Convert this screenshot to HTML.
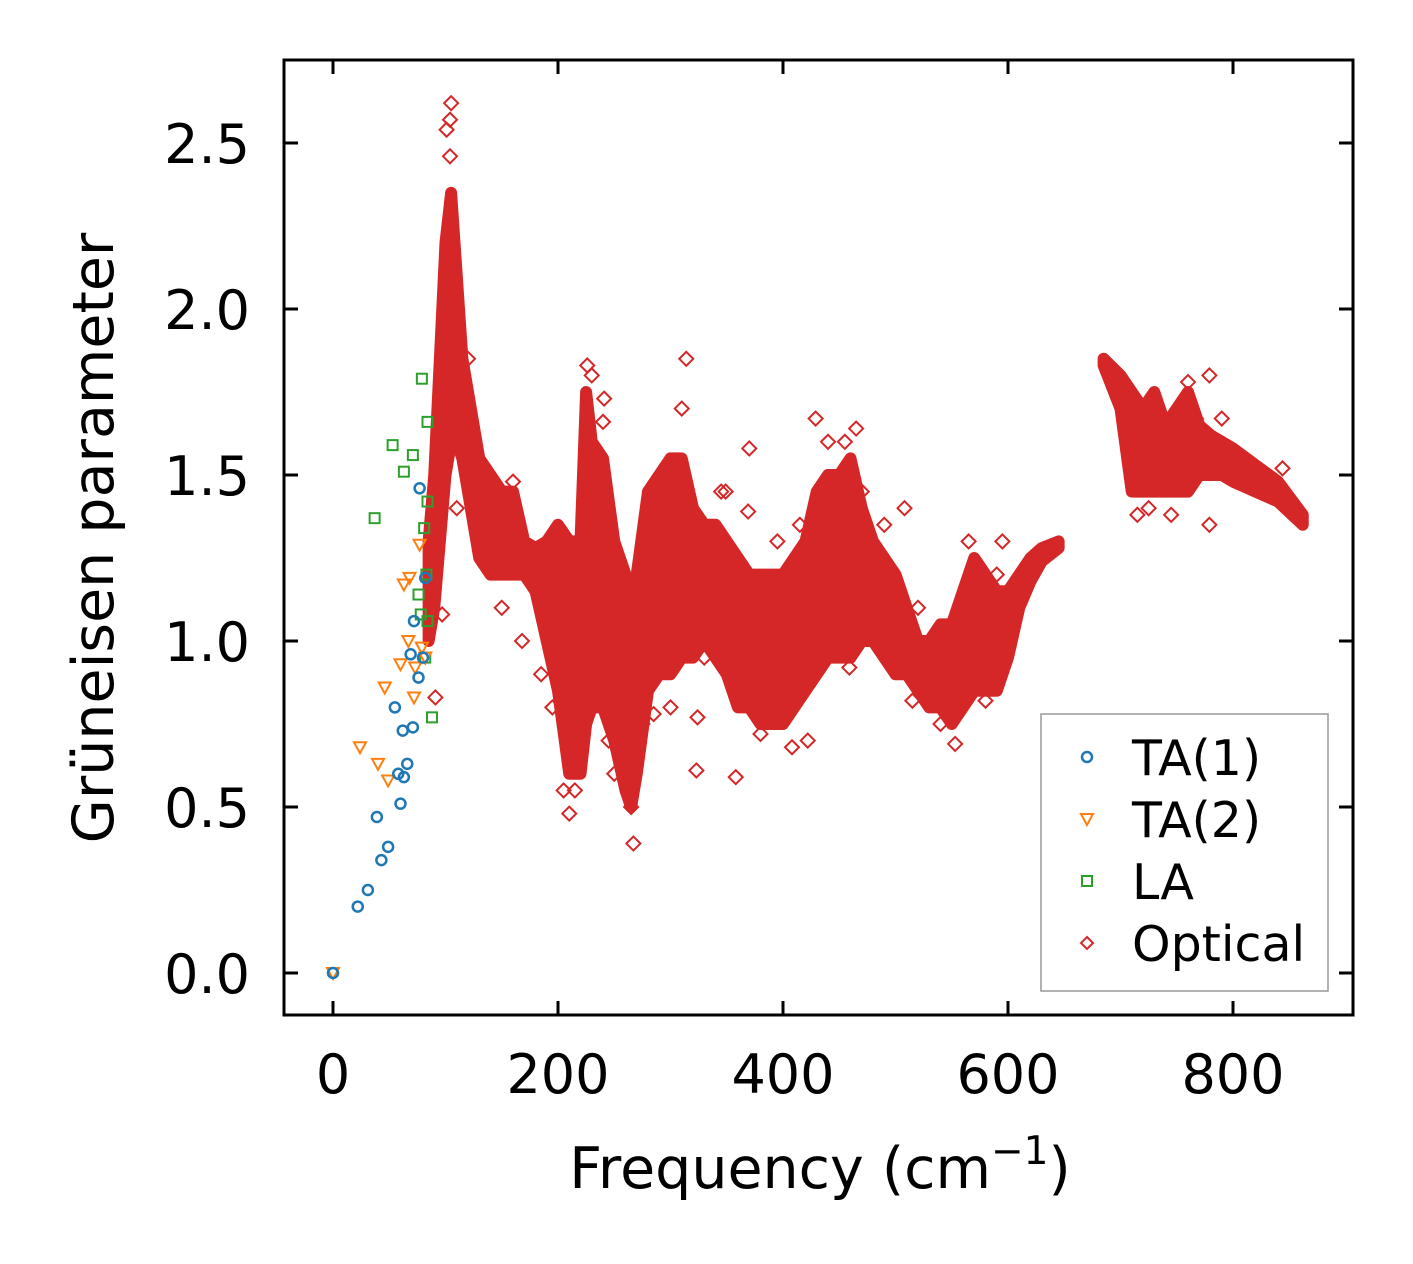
<!DOCTYPE html>
<html><head><meta charset="utf-8"><style>
html,body{margin:0;padding:0;background:#fff;}
svg{display:block;font-family:"DejaVu Sans","Liberation Sans",sans-serif;}
</style></head><body>
<svg id="chart" width="1413" height="1264" viewBox="0 0 1413 1264">
<rect width="1413" height="1264" fill="#fff"/>
<g id="plot"></g>
</svg>
<script>
const xTicks=[0,200,400,600,800];
const yTicks=[0.0,0.5,1.0,1.5,2.0,2.5];
const yTickLabels=["0.0","0.5","1.0","1.5","2.0","2.5"];
const ta1Freq=[0,22,31,39,43,49,55,58,60,62,63,66,69,71,72,76,77,82,80];
const ta1Gamma=[0,0.2,0.25,0.47,0.34,0.38,0.80,0.60,0.51,0.73,0.59,0.63,0.96,0.74,1.06,0.89,1.46,1.19,0.95];
const ta2Freq=[0,24,40,46,49,60,63,67,72,68,77,79,82,73];
const ta2Gamma=[0,0.68,0.63,0.86,0.58,0.93,1.17,1.0,0.83,1.19,1.29,0.98,0.95,0.92];
const laFreq=[37,53,63,71,79,84,76,78,81,84,88,84,82,83];
const laGamma=[1.37,1.59,1.51,1.56,1.79,1.66,1.14,1.08,1.34,1.42,0.77,1.06,0.95,1.2];
const bandFreq=[85,90,95,100,105,110,115,120,130,140,150,160,170,180,190,200,210,220,225,230,240,250,260,265,270,280,290,300,310,320,330,340,350,360,370,380,390,400,410,420,430,440,450,460,470,480,490,500,510,520,530,540,550,560,570,580,590,600,610,620,630,645];
const bandLow=[1.0,1.1,1.3,1.5,1.6,1.6,1.55,1.45,1.25,1.2,1.2,1.2,1.2,1.15,1.0,0.85,0.6,0.6,0.75,0.8,0.8,0.7,0.55,0.5,0.6,0.85,0.9,0.9,0.95,0.95,1.0,0.95,0.9,0.8,0.8,0.75,0.75,0.75,0.8,0.85,0.9,0.95,0.95,0.95,1.0,1.0,0.95,0.9,0.9,0.85,0.8,0.8,0.75,0.8,0.85,0.85,0.85,0.95,1.1,1.18,1.24,1.28];
const bandHigh=[1.3,1.5,1.85,2.2,2.35,2.1,1.85,1.75,1.55,1.5,1.45,1.45,1.3,1.28,1.3,1.35,1.3,1.3,1.75,1.6,1.55,1.3,1.2,1.15,1.2,1.45,1.5,1.55,1.55,1.4,1.35,1.35,1.3,1.25,1.2,1.2,1.2,1.2,1.25,1.3,1.45,1.5,1.5,1.55,1.4,1.3,1.25,1.2,1.1,1.0,1.0,1.05,1.05,1.15,1.25,1.2,1.15,1.15,1.2,1.25,1.28,1.3];
const band2Freq=[685,700,710,720,730,740,750,760,770,780,790,800,820,840,862];
const band2Low=[1.83,1.7,1.45,1.45,1.45,1.45,1.45,1.45,1.5,1.5,1.5,1.48,1.45,1.42,1.35];
const band2High=[1.85,1.8,1.75,1.7,1.75,1.65,1.7,1.75,1.65,1.62,1.6,1.58,1.53,1.48,1.38];
const optFreq=[105,101,104,104,314,370,358,267,323,324,210,226,429,779,767,779,844,408,422,97,91,553,553,508,595,241,240,168,150,110,515,459,369,349,230,265,300,455,465,205,250,275,120,135,145,160,185,195,215,235,245,285,310,330,345,380,395,415,440,470,490,500,520,540,565,580,590,715,725,745,760,790];
const optGamma=[2.62,2.54,2.46,2.57,1.85,1.58,0.59,0.39,0.61,0.77,0.48,1.83,1.67,1.8,1.67,1.35,1.52,0.68,0.70,1.08,0.83,0.77,0.69,1.4,1.3,1.73,1.66,1.0,1.1,1.4,0.82,0.92,1.39,1.45,1.8,0.5,0.8,1.6,1.64,0.55,0.6,0.75,1.85,1.5,1.4,1.48,0.9,0.8,0.55,1.3,0.7,0.78,1.7,0.95,1.45,0.72,1.3,1.35,1.6,1.45,1.35,1.1,1.1,0.75,1.3,0.82,1.2,1.38,1.4,1.38,1.78,1.67];

const L=284,R=1353,T=60,B=1015;
const sx=v=>333+v*1.125;
const sy=v=>973-v*332;
const NS="http://www.w3.org/2000/svg";
const g=document.getElementById('plot');
function mk(tag,attrs,parent){const e=document.createElementNS(NS,tag);for(const k in attrs)e.setAttribute(k,attrs[k]);(parent||g).appendChild(e);return e;}

function band(fr,lo,hi,name){
  let pts=fr.map((f,i)=>sx(f)+','+sy(hi[i]));
  for(let i=fr.length-1;i>=0;i--)pts.push(sx(fr[i])+','+sy(lo[i]));
  const p=mk('polygon',{points:pts.join(' '),fill:'#d62728',stroke:'#d62728','stroke-width':12,'stroke-linejoin':'round'});
  
  
}
band(bandFreq,bandLow,bandHigh,'optical-band-low-freq');
band(band2Freq,band2Low,band2High,'optical-band-high-freq');

function diamond(x,y,s){return `${x},${y-s} ${x+s},${y} ${x},${y+s} ${x-s},${y}`;}
optFreq.forEach((f,i)=>{
  const p=mk('polygon',{points:diamond(sx(f),sy(optGamma[i]),7),fill:'none',stroke:'#d62728','stroke-width':2});
  
  
});
laFreq.forEach((f,i)=>{
  const p=mk('rect',{x:sx(f)-5,y:sy(laGamma[i])-5,width:10,height:10,fill:'none',stroke:'#2ca02c','stroke-width':2});
  
  
});
ta2Freq.forEach((f,i)=>{
  const x=sx(f),y=sy(ta2Gamma[i]);
  const p=mk('polygon',{points:`${x-6},${y-5} ${x+6},${y-5} ${x},${y+6}`,fill:'none',stroke:'#ff7f0e','stroke-width':2});
  
  
});
ta1Freq.forEach((f,i)=>{
  const p=mk('circle',{cx:sx(f),cy:sy(ta1Gamma[i]),r:5,fill:'none',stroke:'#1f77b4','stroke-width':2.5});
  
  
});

const fr=mk('rect',{x:L,y:T,width:R-L,height:B-T,fill:'none',stroke:'#000','stroke-width':3});



xTicks.forEach(v=>{
  const x=sx(v);
  mk('line',{x1:x,y1:B,x2:x,y2:B-14,stroke:'#000','stroke-width':3});
  mk('line',{x1:x,y1:T,x2:x,y2:T+14,stroke:'#000','stroke-width':3});
  const t=mk('text',{x:x,y:1093,'text-anchor':'middle','font-size':54,fill:'#000'});
  t.textContent=String(v);
  
  
});
yTicks.forEach((v,i)=>{
  const y=sy(v);
  mk('line',{x1:L,y1:y,x2:L+14,y2:y,stroke:'#000','stroke-width':3});
  mk('line',{x1:R,y1:y,x2:R-14,y2:y,stroke:'#000','stroke-width':3});
  const t=mk('text',{x:250,y:y+20,'text-anchor':'end','font-size':54,fill:'#000'});
  t.textContent=yTickLabels[i];
  
  
});

const xl=mk('text',{x:820,y:1188,'text-anchor':'middle','font-size':57,fill:'#000'});
xl.innerHTML='Frequency (cm<tspan dy="-24" font-size="39">−1</tspan><tspan dy="24">)</tspan>';


const yl=mk('text',{x:0,y:0,'text-anchor':'middle','font-size':57,fill:'#000',transform:'translate(113,538) rotate(-90)'});
yl.textContent='Grüneisen parameter';



const lg=mk('g',{});


mk('rect',{x:1041,y:714,width:287,height:277,fill:'#fff',stroke:'#999','stroke-width':1.5},lg);
const names=['TA(1)','TA(2)','LA','Optical'];
const ys=[757,819,881,943];
names.forEach((n,i)=>{
  const y=ys[i],x=1087;
  if(i===0)mk('circle',{cx:x,cy:y,r:5,fill:'none',stroke:'#1f77b4','stroke-width':2.5},lg);
  if(i===1)mk('polygon',{points:`${x-6},${y-5} ${x+6},${y-5} ${x},${y+6}`,fill:'none',stroke:'#ff7f0e','stroke-width':2},lg);
  if(i===2)mk('rect',{x:x-5,y:y-5,width:10,height:10,fill:'none',stroke:'#2ca02c','stroke-width':2},lg);
  if(i===3)mk('polygon',{points:diamond(x,y,6),fill:'none',stroke:'#d62728','stroke-width':2},lg);
  const t=mk('text',{x:1132,y:y+18,'font-size':49,fill:'#000'},lg);
  t.textContent=n;
  
  
});
</script>
</body></html>
